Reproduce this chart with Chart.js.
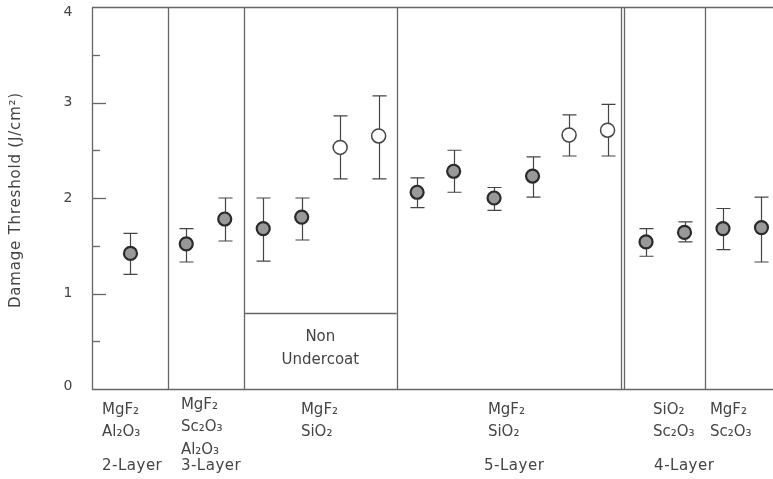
<!DOCTYPE html>
<html lang="en">
<head>
  <meta charset="UTF-8">
  <title>Damage Threshold</title>
  <script src="https://cdn.jsdelivr.net/npm/chart.js"></script>
  <style>
    body { margin: 0; background: #fff; }
    #chart { display: block; }
  </style>
</head>
<body>
  <canvas id="chart" width="773" height="479"></canvas>
  <script>
    // sample positions along the x axis and measured thresholds
    var xPos   = [1.0, 2.45, 3.45, 4.45, 5.45, 6.45, 7.45, 8.45, 9.4, 10.45, 11.45, 12.4, 13.4, 14.4, 15.4, 16.4, 17.4];
    var values = [1.42, 1.52, 1.78, 1.68, 1.80, 2.53, 2.65, 2.06, 2.28, 2.00, 2.23, 2.66, 2.71, 1.54, 1.64, 1.68, 1.69];
    var errLow = [1.20, 1.33, 1.55, 1.34, 1.56, 2.20, 2.20, 1.90, 2.06, 1.87, 2.01, 2.44, 2.44, 1.39, 1.54, 1.46, 1.33];
    var errHigh = [1.63, 1.68, 2.00, 2.00, 2.00, 2.86, 3.07, 2.21, 2.50, 2.11, 2.43, 2.87, 2.98, 1.68, 1.75, 1.89, 2.01];
    var isOpen = [false, false, false, false, false, true, true, false, false, false, false, true, true, false, false, false, false];

    var yTicks = [0, 1, 2, 3, 4];
    var yTitle = 'Damage Threshold (J/cm\u00b2)';

    // group separators and the "Non Undercoat" box
    var separators = [1.97, 3.95, 7.92, 13.74, 13.82, 15.92];
    var boxFrom = 3.95, boxTo = 7.92, boxTop = 0.8;

    // labels under the axis
    var groupX = [0.26, 2.31, 5.43, 10.29, 14.58, 16.06];
    var groupLabels = [
      ['MgF\u2082', 'Al\u2082O\u2083'],
      ['MgF\u2082', 'Sc\u2082O\u2083', 'Al\u2082O\u2083'],
      ['MgF\u2082', 'SiO\u2082'],
      ['MgF\u2082', 'SiO\u2082'],
      ['SiO\u2082', 'Sc\u2082O\u2083'],
      ['MgF\u2082', 'Sc\u2082O\u2083']
    ];
    var layerX = [0.26, 2.31, 10.19, 14.61];
    var layerLabels = ['2-Layer', '3-Layer', '5-Layer', '4-Layer'];

    var filledPts = [], openPts = [];
    for (var i = 0; i < values.length; i++) {
      var p = { x: xPos[i], y: values[i], lo: errLow[i], hi: errHigh[i] };
      if (isOpen[i]) openPts.push(p); else filledPts.push(p);
    }

    var ink = '#444';
    var font = '"DejaVu Sans", sans-serif';

    var decor = {
      id: 'decor',
      beforeDatasetsDraw: function (chart) {
        var c = chart.ctx, a = chart.chartArea;
        var xs = chart.scales.x, ys = chart.scales.y;
        c.save();
        c.strokeStyle = '#666';
        c.lineWidth = 1.3;
        // frame (no right edge in the original)
        c.beginPath();
        c.moveTo(a.right, a.top + 0.5);
        c.lineTo(a.left + 0.5, a.top + 0.5);
        c.lineTo(a.left + 0.5, a.bottom + 0.5);
        c.lineTo(a.right, a.bottom + 0.5);
        c.stroke();
        // separators
        separators.forEach(function (v) {
          var px = Math.round(xs.getPixelForValue(v)) + 0.5;
          c.beginPath();
          c.moveTo(px, a.top);
          c.lineTo(px, a.bottom);
          c.stroke();
        });
        // box line
        var by = Math.round(ys.getPixelForValue(boxTop)) + 0.5;
        c.beginPath();
        c.moveTo(xs.getPixelForValue(boxFrom), by);
        c.lineTo(xs.getPixelForValue(boxTo), by);
        c.stroke();
        // inner ticks
        for (var t = 0.5; t < 4; t += 0.5) {
          var ty = Math.round(ys.getPixelForValue(t)) + 0.5;
          var len = (t % 1 === 0) ? 14 : 8;
          c.beginPath();
          c.moveTo(a.left, ty);
          c.lineTo(a.left + len, ty);
          c.stroke();
        }
        // error bars
        c.strokeStyle = '#444';
        c.lineWidth = 1.2;
        chart.data.datasets.forEach(function (ds) {
          ds.data.forEach(function (p) {
            var px = Math.round(xs.getPixelForValue(p.x)) + 0.5;
            var y1 = ys.getPixelForValue(p.lo), y2 = ys.getPixelForValue(p.hi);
            c.beginPath();
            c.moveTo(px, y1); c.lineTo(px, y2);
            c.moveTo(px - 7, y1); c.lineTo(px + 7, y1);
            c.moveTo(px - 7, y2); c.lineTo(px + 7, y2);
            c.stroke();
          });
        });
        c.restore();
      },
      afterDraw: function (chart) {
        var c = chart.ctx;
        var xs = chart.scales.x, ys = chart.scales.y;
        c.save();
        c.fillStyle = ink;
        c.textBaseline = 'middle';
        // y tick labels
        c.font = '14px ' + font;
        c.textAlign = 'center';
        yTicks.forEach(function (t) {
          c.fillText(String(t), 68, ys.getPixelForValue(t) + (t === 4 ? 5 : (t === 0 ? -3 : 0)));
        });
        // y title
        c.save();
        c.translate(16, 200);
        c.rotate(-Math.PI / 2);
        c.font = '15px ' + font;
        c.letterSpacing = '0.8px';
        c.fillText(yTitle, 0, 0);
        c.restore();
        // Non Undercoat
        c.font = '15px ' + font;
        c.textAlign = 'center';
        var cx = (xs.getPixelForValue(boxFrom) + xs.getPixelForValue(boxTo)) / 2;
        c.fillText('Non', cx, 337);
        c.fillText('Undercoat', cx, 360);
        // compositions
        c.textAlign = 'left';
        groupLabels.forEach(function (lines, g) {
          var gx = xs.getPixelForValue(groupX[g]);
          var y0 = lines.length === 3 ? 405 : 410;
          lines.forEach(function (s, k) {
            c.fillText(s, gx, y0 + k * 22.5);
          });
        });
        c.letterSpacing = '0.5px';
        layerLabels.forEach(function (s, k) {
          c.fillText(s, xs.getPixelForValue(layerX[k]), 466);
        });
        c.restore();
      }
    };

    var ctx = document.getElementById('chart').getContext('2d');
    var chart = new Chart(ctx, {
      type: 'scatter',
      data: {
        datasets: [{
          label: 'undercoat',
          data: filledPts,
          pointRadius: 6.5,
          pointBackgroundColor: '#999',
          pointBorderColor: '#2a2a2a',
          pointBorderWidth: 2.2
        }, {
          label: 'non undercoat',
          data: openPts,
          pointRadius: 7,
          pointBackgroundColor: '#fff',
          pointBorderColor: '#444',
          pointBorderWidth: 1.5
        }]
      },
      options: {
        responsive: false,
        animation: false,
        devicePixelRatio: 1,
        layout: { padding: { left: 92, top: 7, right: 0, bottom: 90 }, autoPadding: false },
        plugins: { legend: { display: false }, tooltip: { enabled: false } },
        scales: {
          x: { type: 'linear', min: 0, max: 17.7, display: false },
          y: { min: 0, max: 4, display: false }
        }
      },
      plugins: [decor]
    });
  </script>
</body>
</html>
